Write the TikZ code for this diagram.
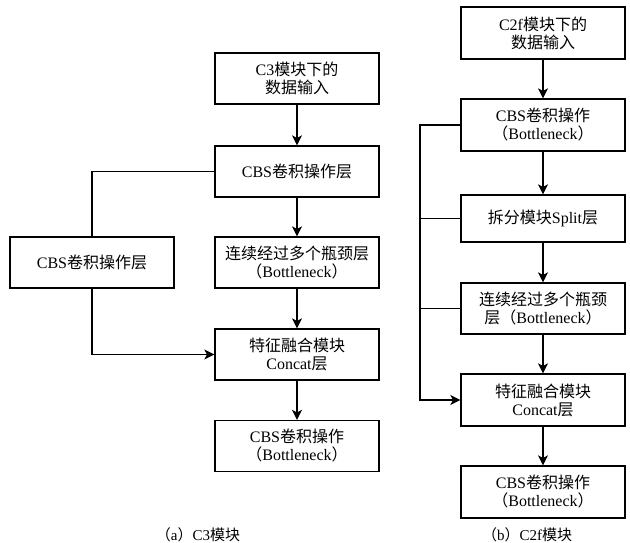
\documentclass[tikz,border=0pt]{standalone}
\usepackage{fontspec}
\setmainfont{Liberation Serif}
\newfontfamily\cjk{Noto Sans CJK SC}
\usetikzlibrary{arrows.meta}
\begin{document}
\begin{tikzpicture}[x=1pt,y=-1pt,
  box/.style={draw, line width=1.2pt, minimum width=164pt, minimum height=51pt, align=center, inner sep=0pt, font=\fontsize{16}{18}\selectfont},
  arr/.style={line width=1.2pt, -{Stealth[length=10pt,width=10pt,inset=2.5pt]}},
  ln/.style={line width=1.2pt},
  captxt/.style={font=\fontsize{15}{17}\selectfont}]
\useasboundingbox (0,0) rectangle (630,543);
% left diagram
\node[box] (in1) at (297,78.5) {C3{\cjk 模块下的}\\{\cjk 数据输入}};
\node[box] (cbs1) at (297,171.5) {CBS{\cjk 卷积操作层}};
\node[box] (cbsL) at (92,262.5) {CBS{\cjk 卷积操作层}};
\node[box] (bot1) at (297,262.5) {{\cjk 连续经过多个瓶颈层}\\{\cjk （}Bottleneck{\cjk ）}};
\node[box] (cat1) at (297,354.5) {{\cjk 特征融合模块}\\Concat{\cjk 层}};
\node[box] (out1) at (297,446) {CBS{\cjk 卷积操作}\\{\cjk （}Bottleneck{\cjk ）}};
\draw[arr] (in1) -- (cbs1);
\draw[arr] (cbs1) -- (bot1);
\draw[arr] (bot1) -- (cat1);
\draw[arr] (cat1) -- (out1);
\draw[ln] (cbs1.west) -| (cbsL.north);
\draw[arr] (cbsL.south) |- (cat1.west);
\node[captxt] (capa) at (198,535) {{\cjk （}a{\cjk ）}C3{\cjk 模块}};
% right diagram
\node[box, minimum height=52pt] (in2) at (543,33) {C2f{\cjk 模块下的}\\{\cjk 数据输入}};
\node[box, minimum height=52pt] (cbs2) at (543,125) {CBS{\cjk 卷积操作}\\{\cjk （}Bottleneck{\cjk ）}};
\node[box, minimum height=47pt] (split) at (543,218.5) {{\cjk 拆分模块}Split{\cjk 层}};
\node[box] (bot2) at (543,308.5) {{\cjk 连续经过多个瓶颈}\\{\cjk 层（}Bottleneck{\cjk ）}};
\node[box, minimum height=52pt] (cat2) at (543,400) {{\cjk 特征融合模块}\\Concat{\cjk 层}};
\node[box, minimum height=52pt] (out2) at (543,492) {CBS{\cjk 卷积操作}\\{\cjk （}Bottleneck{\cjk ）}};
\draw[arr] (in2) -- (cbs2);
\draw[arr] (cbs2) -- (split);
\draw[arr] (split) -- (bot2);
\draw[arr] (bot2) -- (cat2);
\draw[arr] (cat2) -- (out2);
\coordinate (tl) at (420,125);
\draw[arr] (cbs2.west) -- (tl) |- (cat2.west);
\draw[ln] (split.west) -- (split.west -| tl);
\draw[ln] (bot2.west) -- (bot2.west -| tl);
\node[captxt] (capb) at (527,535) {{\cjk （}b{\cjk ）}C2f{\cjk 模块}};
\end{tikzpicture}
\end{document}
